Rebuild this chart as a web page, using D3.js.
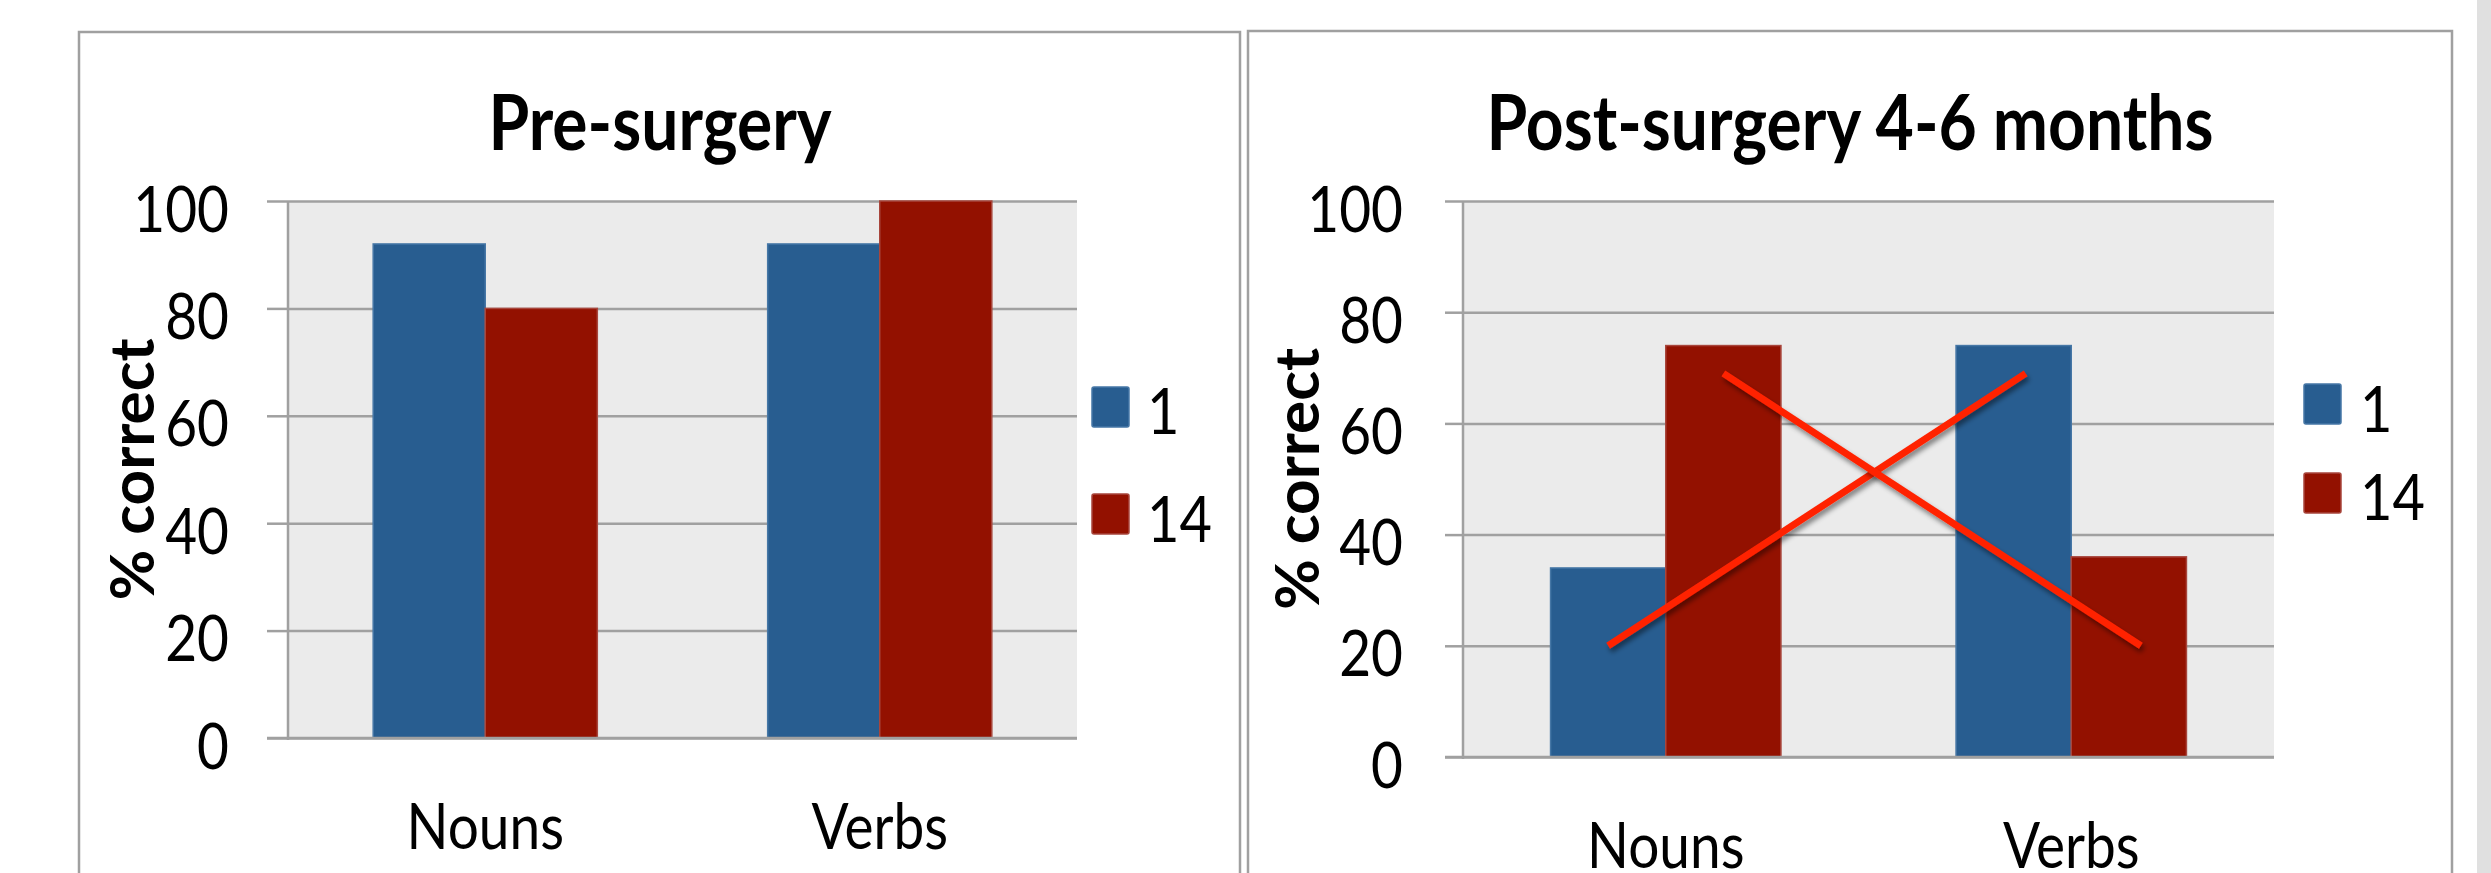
<!DOCTYPE html>
<html>
<head>
<meta charset="utf-8">
<script src="https://cdn.jsdelivr.net/npm/d3@7"></script>
<style>
  html,body{margin:0;padding:0;background:#fff;}
  svg{display:block;}
  text{font-family:Lato,"Open Sans",sans-serif;fill:#000;}
  /* le texte de la figure d'origine est plus haut que large */
  text.tall{transform-box:fill-box;transform-origin:center;transform:scaleY(1.15);}
</style>
</head>
<body>
<svg id="chart" width="2491" height="873"></svg>
<script>
// ── DONNÉES ─────────────────────────────────────────────
var categories=["Nouns","Verbs"];
var seriesNames=["1","14"];
var yTicks=[0,20,40,60,80,100];
var titles=["Pre-surgery","Post-surgery 4-6 months"];
var yAxisTitle="% correct";
// valeurs par série (ordre = categories)
var pre1=[92,92];
var pre14=[80,100];
var post1=[34,74];
var post14=[74,36];
// croix rouge (panneau 2) : [catégorie, série, valeur] -> [catégorie, série, valeur]
var crossFrom=[["Nouns","1",20],["Nouns","14",69]];
var crossTo=[["Verbs","1",69],["Verbs","14",20]];

// ── MISE EN PAGE ────────────────────────────────────────
var COLORS={"1":"#285d90","14":"#931100"};
var STROKES={"1":"#4677a6","14":"#a8463c"};
var GRID="#a0a0a0";

var panels=[
  {title:titles[0],series:{"1":pre1,"14":pre14},
   frame:{x0:79,y0:32,x1:1240},
   plot:{x:288,y:201,w:789,h:537},tick:21,labelPad:38,
   titleX:660,ytX:154,
   legend:{x:1092,y:[387,494],tx:1147,base:[433,541]},cross:false},
  {title:titles[1],series:{"1":post1,"14":post14},
   frame:{x0:1248,y0:31,x1:2452},
   plot:{x:1463,y:201,w:811,h:556},tick:18,labelPad:42,
   titleX:1850,ytX:1319,
   legend:{x:2304,y:[384,473],tx:2360,base:[431,519]},cross:true}
];

var svg=d3.select("#chart");
var defs=svg.append("defs");
var f=defs.append("filter").attr("id","shadow").attr("x","-20%").attr("y","-20%").attr("width","140%").attr("height","140%");
f.append("feDropShadow").attr("dx",2).attr("dy",4).attr("stdDeviation",2.5)
  .attr("flood-color","#000").attr("flood-opacity",0.45);

// bande grise à droite
svg.append("rect").attr("x",2477).attr("y",0).attr("width",14).attr("height",873).attr("fill","#e0e0e0");

panels.forEach(function(p){
  // cadre du graphique (bas coupé)
  svg.append("path")
    .attr("d","M"+p.frame.x0+",900V"+p.frame.y0+"H"+p.frame.x1+"V900")
    .attr("fill","none").attr("stroke",GRID).attr("stroke-width",2.5);

  var g=svg.append("g").attr("transform","translate("+p.plot.x+","+p.plot.y+")");
  var W=p.plot.w,H=p.plot.h;

  var y=d3.scaleLinear().domain([0,100]).range([H,0]);
  var x0=d3.scaleBand().domain(categories).range([0,W]);
  var x1=d3.scaleBand().domain(seriesNames).range([0,x0.bandwidth()]).paddingOuter(0.76);

  g.append("rect").attr("width",W).attr("height",H).attr("fill","#ebebeb");

  // quadrillage
  g.append("g").attr("class","grid")
    .call(d3.axisRight(y).tickValues(yTicks).tickSize(W).tickFormat(""))
    .call(function(s){
      s.select(".domain").remove();
      s.selectAll("line").attr("stroke",GRID).attr("stroke-width",2.5);
    });

  // barres
  var rows=categories.map(function(c,i){
    return seriesNames.map(function(s){return {cat:c,ser:s,v:p.series[s][i]};});
  });
  g.selectAll("g.cat").data(rows).enter().append("g").attr("class","cat")
    .attr("transform",function(d,i){return "translate("+x0(categories[i])+",0)";})
    .selectAll("rect").data(function(d){return d;}).enter().append("rect")
    .attr("x",function(d){return x1(d.ser);})
    .attr("y",function(d){return y(d.v);})
    .attr("width",x1.bandwidth())
    .attr("height",function(d){return H-y(d.v);})
    .attr("fill",function(d){return COLORS[d.ser];})
    .attr("stroke",function(d){return STROKES[d.ser];})
    .attr("stroke-width",1.5);

  // axe Y
  g.append("g")
    .call(d3.axisLeft(y).tickValues(yTicks).tickSize(p.tick).tickPadding(p.labelPad))
    .call(function(s){
      s.select(".domain").remove();
      s.selectAll("line").attr("stroke",GRID).attr("stroke-width",2.5);
      s.selectAll("text").attr("class","tall").attr("font-size",55).attr("dy",null).attr("y",27)
        .style("font-family","Lato").attr("fill","#000");
    });
  g.append("line").attr("x1",0).attr("x2",0).attr("y1",0).attr("y2",H+2)
    .attr("stroke",GRID).attr("stroke-width",2.5);
  g.append("line").attr("x1",-p.tick).attr("x2",W).attr("y1",H).attr("y2",H)
    .attr("stroke",GRID).attr("stroke-width",2.5);

  // axe X
  g.append("g").attr("transform","translate(0,"+H+")")
    .call(d3.axisBottom(x0).tickSize(0))
    .call(function(s){
      s.select(".domain").remove();
      s.selectAll("text").attr("class","tall").attr("font-size",55).attr("dy",null).attr("y",108)
        .style("font-family","Lato").attr("fill","#000");
    });

  // titre Y
  svg.append("text")
    .attr("transform","translate("+p.ytX+","+(p.plot.y+H/2)+") rotate(-90)")
    .attr("text-anchor","middle").attr("font-size",62).attr("font-weight",700)
    .text(yAxisTitle);

  // titre
  svg.append("text").attr("class","tall").attr("x",p.titleX).attr("y",146)
    .attr("text-anchor","middle").attr("font-size",66).attr("font-weight",700)
    .text(p.title);

  // légende
  seriesNames.forEach(function(s,i){
    svg.append("rect").attr("x",p.legend.x).attr("y",p.legend.y[i])
      .attr("width",37).attr("height",40).attr("rx",2)
      .attr("fill",COLORS[s]).attr("stroke",STROKES[s]).attr("stroke-width",1.5);
    svg.append("text").attr("class","tall").attr("x",p.legend.tx).attr("y",p.legend.base[i]-2)
      .attr("font-size",56).text(s);
  });

  // croix
  if(p.cross){
    var cx=function(c,s){return x0(c)+x1(s)+x1.bandwidth()/2;};
    crossFrom.forEach(function(a,i){
      var b=crossTo[i];
      g.append("line")
        .attr("x1",cx(a[0],a[1])).attr("y1",y(a[2]))
        .attr("x2",cx(b[0],b[1])+12).attr("y2",y(b[2]))
        .attr("stroke","#ff2400").attr("stroke-width",7)
        .attr("filter","url(#shadow)");
    });
  }
});
</script>
</body>
</html>
